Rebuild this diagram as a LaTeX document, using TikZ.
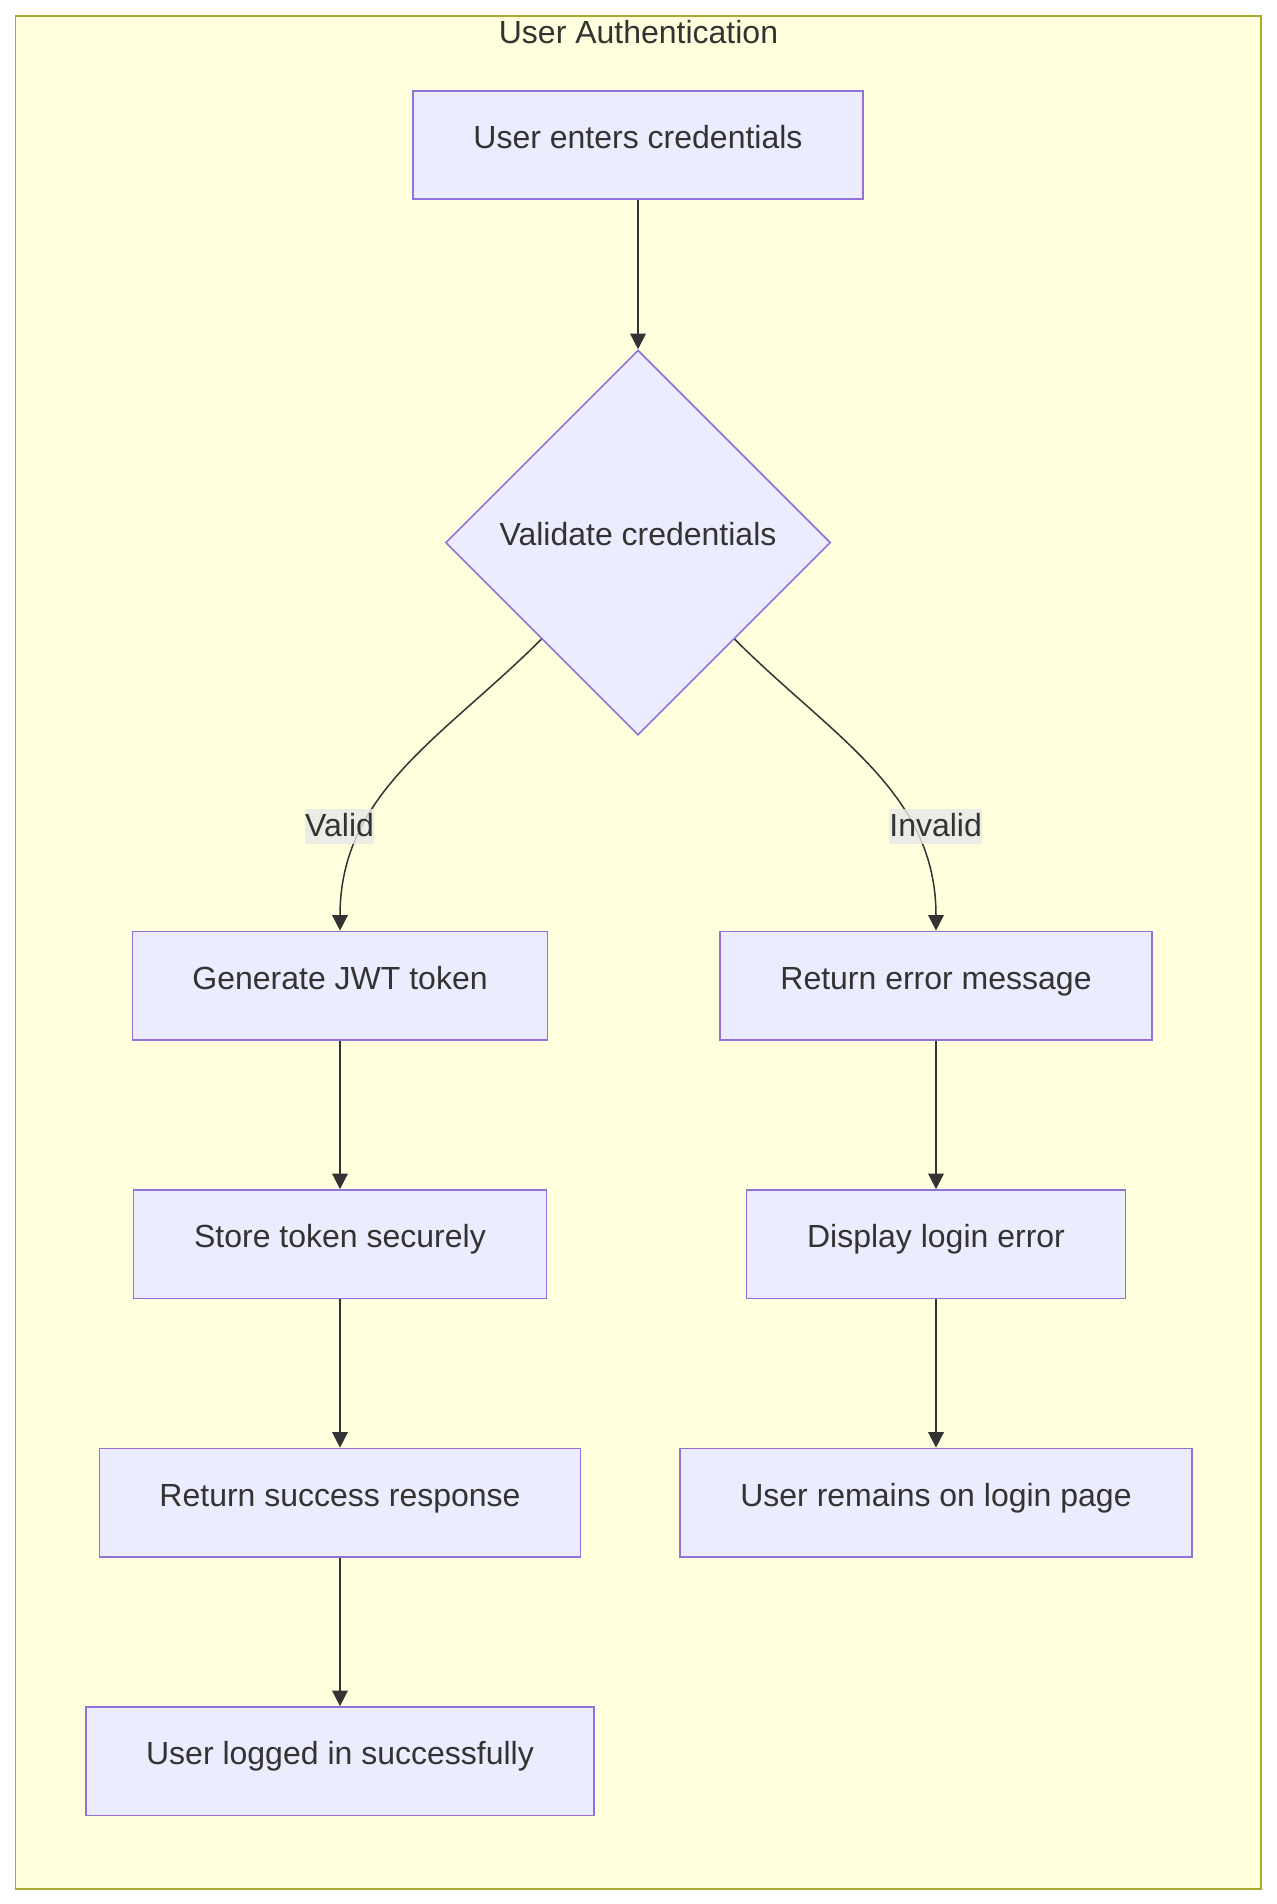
\documentclass[tikz,border=0pt]{standalone}
\usepackage{fontspec}
\setmainfont{Liberation Sans}
\usepackage{tikz}
\usetikzlibrary{arrows.meta,positioning,shapes.geometric}
\definecolor{authpurple}{RGB}{147,112,219}
\definecolor{authfill}{RGB}{236,236,255}
\definecolor{authframe}{RGB}{170,170,51}
\definecolor{authbg}{RGB}{255,255,222}
\definecolor{authink}{RGB}{51,51,51}
\definecolor{authlabel}{RGB}{232,232,232}
\tikzset{
  stepbox/.style={
    draw=authpurple,
    fill=authfill,
    line width=0.8pt,
    minimum height=54.25pt,
    inner sep=0pt,
    text height=12pt,
    text depth=8.5pt,
    text=authink,
    font=\fontsize{16pt}{19pt}\selectfont
  },
  decision/.style={
    diamond,
    aspect=1,
    draw=authpurple,
    fill=authfill,
    line width=0.8pt,
    minimum width=192.5pt,
    minimum height=192.5pt,
    inner sep=0pt,
    text height=12pt,
    text depth=9pt,
    text=authink,
    font=\fontsize{16pt}{19pt}\selectfont
  },
  edgelabel/.style={
    fill=authlabel,
    fill opacity=0.8,
    text opacity=1,
    inner sep=0pt,
    text height=13.7pt,
    text depth=3.8pt,
    text=authink,
    font=\fontsize{16pt}{19pt}\selectfont
  },
  grouptitle/.style={
    text=authink,
    inner sep=0pt,
    font=\fontsize{16pt}{19pt}\selectfont
  },
  arr/.style={-{Triangle[length=7.75pt,width=7.75pt]},line width=0.75pt,authink}
}

\begin{document}
\begin{tikzpicture}[x=0.5pt,y=-0.5pt,node distance=74.2pt]
        \useasboundingbox (0,0) rectangle (1277,1904);
        \draw[authframe,fill=authbg,line width=0.8pt] (15.5,16) rectangle (1261,1889);
        \node[grouptitle,anchor=base] (title) at (638.5,44) {User Authentication};

        \node[stepbox,minimum width=225pt] (enter) at (638,145) {User enters credentials};
        \node[decision,below=74.6pt of enter] (check) {Validate credentials};
        \node[stepbox,minimum width=207.5pt] (token) at (340,985.7) {Generate JWT token};
        \node[stepbox,minimum width=216pt] (errmsg) at (936,985.7) {Return error message};
        \node[stepbox,minimum width=206.5pt,below=of token] (store) {Store token securely};
        \node[stepbox,minimum width=240.5pt,below=of store] (success) {Return success response};
        \node[stepbox,minimum width=254pt,below=of success] (loggedin) {User logged in successfully};
        \node[stepbox,minimum width=189.5pt,below=of errmsg] (showerr) {Display login error};
        \node[stepbox,minimum width=256pt,below=of showerr] (remain) {User remains on login page};

        \draw[arr] (enter) -- (check);
        \draw[arr] (check.-135) to[out=-135,in=90] (token.north);
        \draw[arr] (check.-45) to[out=-45,in=90] (errmsg.north);
        \draw[arr] (token) -- (store);
        \draw[arr] (store) -- (success);
        \draw[arr] (success) -- (loggedin);
        \draw[arr] (errmsg) -- (showerr);
        \draw[arr] (showerr) -- (remain);

        \node[edgelabel] (validlbl) at (339.6,826.8) {Valid};
        \node[edgelabel] (invalidlbl) at (935.6,826.8) {Invalid};
      \end{tikzpicture}
\end{document}
